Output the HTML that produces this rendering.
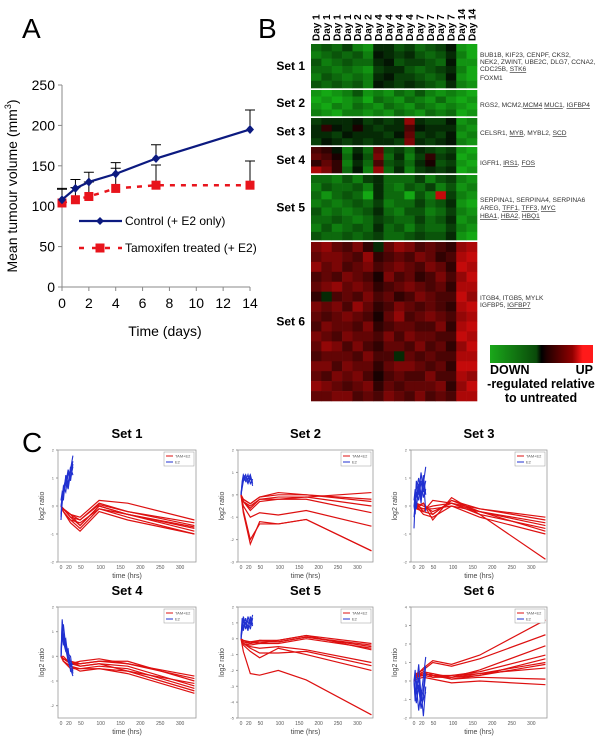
<!DOCTYPE html>
<html><head><meta charset="utf-8"><style>
html,body{margin:0;padding:0;background:#fff;width:600px;height:748px;overflow:hidden}
svg{display:block}
text{font-family:"Liberation Sans",Arial,sans-serif}
</style></head><body>
<svg id="fig" width="600" height="748" viewBox="0 0 600 748">
<text x="22" y="38" font-family="Liberation Serif" font-size="28">A</text>
<text x="258" y="38" font-family="Liberation Serif" font-size="28">B</text>
<text x="22" y="452" font-family="Liberation Serif" font-size="28">C</text>
<g id="pa"></g>
<g id="pb"></g>
<g id="pc"></g>
</svg>
<script>
// ---------- Panel A data ----------
const days = [0,1,2,4,7,14];
const controlVol = [108,122,130,140,159,195];
const controlErr = [14,11,12,14,17,24];
const tamVol = [104,108,112,122,126,126];
const tamErr = [17,15,18,25,25,30];
const yTicksA = [0,50,100,150,200,250];
const xTicksA = [0,2,4,6,8,10,12,14];

// ---------- Panel B data ----------
const dayLabels = ["Day 1","Day 1","Day 1","Day 1","Day 2","Day 2","Day 4","Day 4","Day 4","Day 4","Day 7","Day 7","Day 7","Day 7","Day 14","Day 14"];
const setNames = ["Set 1","Set 2","Set 3","Set 4","Set 5","Set 6"];
const heat1 = [
[-5,-4,-5,-3,-6,-7,-2,-2,-4,-3,-5,-4,-3,-1,-7,-8],
[-6,-5,-4,-5,-4,-6,-1,-2,-3,-2,-4,-5,-4,-2,-6,-8],
[-4,-6,-5,-4,-5,-5,-2,-1,-4,-3,-3,-4,-5,-1,-7,-7],
[-5,-5,-6,-5,-6,-7,-3,-2,-2,-4,-5,-4,-3,-2,-6,-8],
[-6,-4,-5,-6,-5,-6,-2,-1,-3,-3,-4,-5,-4,-1,-7,-8],
[-4,-5,-4,-5,-4,-6,-1,-2,-3,-2,-3,-4,-5,-2,-6,-7]];
const heat2 = [
[-7,-8,-7,-6,-4,-7,-6,-7,-5,-6,-4,-6,-7,-6,-7,-8],
[-8,-7,-8,-7,-6,-8,-5,-6,-7,-5,-6,-7,-5,-7,-8,-7],
[-7,-8,-6,-7,-5,-6,-7,-5,-6,-7,-5,-6,-7,-6,-7,-8],
[-6,-7,-8,-6,-6,-7,-6,-7,-5,-6,-7,-5,-6,-5,-8,-7]];
const heat3 = [
[-3,-2,-2,-2,-1,-3,-2,-3,-2,6,-2,-3,-3,-1,-7,-6],
[-2,2,-1,-2,1,-2,-3,-2,-2,3,-1,-2,-2,-2,-6,-7],
[-2,-2,-3,-1,-2,-2,-2,-3,-1,4,-3,-2,-3,-1,-7,-6],
[-3,-1,-2,-3,-2,-3,-2,-2,-3,5,-2,-3,-2,-1,-6,-7]];
const heat4 = [
[3,2,-1,-6,-2,-5,4,-4,-3,-5,-2,-3,-4,-3,-7,-8],
[4,3,1,-5,-1,-4,5,-5,-2,-6,-3,2,-3,-2,-8,-7],
[2,4,2,-6,-2,-5,3,-4,-3,-5,-2,1,-4,-3,-7,-8],
[7,5,2,-5,-1,-6,6,-5,-2,-6,-3,-2,-3,-2,-8,-7]];
const heat5 = [
[-5,-5,-6,-4,-6,-3,-2,-5,-5,-5,-3,-6,-4,-3,-6,-7],
[-6,-4,-5,-5,-4,-6,-2,-5,-6,-4,-5,-3,-6,-4,-7,-6],
[-5,-7,-5,-4,-5,-8,-2,-5,-5,-8,-4,-6,8,-3,-6,-7],
[-6,-5,-6,-5,-4,-5,-3,-6,-5,-5,-3,-5,-4,-2,-7,-8],
[-4,-6,-5,-6,-5,-4,-2,-5,-6,-4,-4,-6,-5,-3,-6,-7],
[-5,-5,-4,-5,-6,-5,-3,-4,-5,-5,-3,-5,-4,-2,-7,-6],
[-6,-4,-6,-5,-4,-5,-2,-5,-4,-6,-4,-5,-5,-3,-6,-7],
[-4,-5,-5,-4,-5,-4,-3,-5,-5,-4,-3,-4,-4,-2,-7,-8]];
const heat6 = [
[5,6,4,3,5,2,-2,4,6,5,3,4,3,2,6,7],
[4,5,5,4,3,6,2,3,4,3,5,4,2,3,7,8],
[6,4,5,3,4,5,3,4,5,4,3,5,4,2,8,7],
[3,4,3,5,4,3,1,5,3,4,2,3,5,3,6,8],
[4,5,6,4,5,4,2,3,4,5,4,3,4,2,7,7],
[2,-2,3,4,3,5,3,4,2,3,5,4,3,3,8,6],
[5,4,5,3,6,4,2,3,5,4,3,4,3,2,7,8],
[4,3,4,5,4,3,1,4,6,3,4,5,4,3,6,7],
[3,5,4,4,3,5,2,3,4,4,3,3,5,2,7,8],
[5,4,3,5,4,4,3,5,3,5,4,4,3,3,8,7],
[4,6,5,3,5,3,2,4,4,3,5,3,4,2,6,8],
[3,4,4,4,3,5,3,3,-2,4,3,4,3,3,7,7],
[5,5,3,5,4,4,2,4,5,5,4,3,4,2,8,8],
[4,3,5,4,5,3,1,3,4,3,3,5,3,3,7,6],
[6,5,4,3,4,5,2,4,3,4,4,4,5,2,6,8],
[4,4,5,5,3,4,3,5,4,3,5,3,4,3,7,7]];

// ---------- Panel C data ----------
const tRed = [0,6,24,48,96,168,336];
const tBlue = [0,3,6,12,18,24,30];
const set1Red = [[0,-0.1,-0.4,-0.7,0,-0.3,-0.9],[0,-0.1,-0.3,-0.5,0.1,-0.2,-0.7],[0,-0.2,-0.5,-0.8,-0.1,-0.4,-1.0],[0,-0.1,-0.3,-0.4,0.2,0.1,-0.5],[0,-0.2,-0.5,-0.6,-0.1,-0.3,-0.8],[0,-0.1,-0.4,-0.5,0.05,-0.2,-0.6],[0,-0.2,-0.6,-0.9,-0.2,-0.5,-1.0],[0,-0.1,-0.3,-0.7,0,-0.3,-0.75]];
const set1Blue = [[-0.5,0.2,0.5,0.9,0.6,1.2,1.6],[-0.3,0.4,0.2,1.1,0.8,1.4,1.1],[0,0.3,0.7,0.5,1.2,0.9,1.5],[-0.4,0.1,0.6,1.0,0.7,1.3,1.8],[0.2,0.5,0.4,0.8,1.3,1.0,1.4]];
const set2Red = [[0,-0.3,-0.5,-0.2,-0.1,-0.1,0.1],[0,-0.2,-0.4,-0.1,0,0,-0.3],[0,-0.3,-0.6,-0.2,-0.2,-0.1,-0.5],[0,-0.2,-0.4,-0.1,0.1,0,-0.2],[0,-0.5,-1.0,-0.8,-0.9,-0.7,-1.4],[0,-0.8,-2.2,-1.2,-1.3,-1.1,-2.5],[0,-0.7,-2.0,-1.3,-1.3,-1.1,-2.5],[0,-0.3,-0.7,-0.3,-0.2,-0.2,-0.8]];
const set2Blue = [[0,0.4,0.8,0.6,0.9,0.5,0.7],[0,0.6,0.9,0.7,0.5,0.8,0.4],[0,0.5,0.7,0.9,0.6,0.7,0.6],[0,0.3,0.6,0.8,0.7,0.9,0.5]];
const set3Red = [[0,0,-0.1,0,0.1,-0.2,-0.6],[0,0.1,-0.2,-0.3,0.2,-0.1,-0.5],[0,-0.1,0.1,-0.5,0.3,-0.3,-0.8],[0,0,-0.3,-0.4,0,-0.2,-0.7],[0,-0.1,-0.2,0.2,0.1,-0.3,-1.9],[0,0.1,0,-0.2,0.1,-0.1,-0.4],[0,-0.1,-0.1,-0.1,0,-0.4,-1.0],[0,0,0.1,-0.3,0.2,-0.2,-0.9]];
const set3Blue = [[-0.8,0.2,0.6,1.0,0.4,0.8,1.4],[0,-0.3,0.5,0.2,0.9,0.3,0.6],[0.2,0.6,0.3,0.8,0.1,1.0,-0.2],[-0.4,0.1,0.9,0.4,1.2,0.5,0.9],[0,0.4,-0.1,0.7,0.3,1.1,0.4]];
const set4Red = [[0,-0.1,-0.3,-0.4,-0.3,-0.4,-1.2],[0,-0.1,-0.2,-0.3,-0.2,-0.3,-0.9],[0,-0.2,-0.4,-0.6,-0.5,-0.7,-1.5],[0,-0.1,-0.3,-0.2,-0.1,-0.3,-0.8],[0,-0.2,-0.5,-0.5,-0.4,-0.5,-1.3],[0,-0.1,-0.2,-0.4,-0.3,-0.6,-1.1],[0,0,-0.3,-0.3,-0.2,-0.2,-1.0],[0,-0.2,-0.4,-0.5,-0.5,-0.6,-1.4]];
const set4Blue = [[0,1.5,0.8,0.3,-0.2,-0.5,-0.8],[0,1.2,0.9,0.5,0.2,-0.3,-0.6],[0,0.8,1.3,0.4,0.1,0,-0.7],[0,1.0,0.5,0.7,-0.1,-0.4,-0.3],[0,1.4,0.6,0.2,0.3,-0.6,-0.5]];
const set5Red = [[0,-0.2,-0.3,-0.2,-0.2,0.1,-0.4],[0,-0.1,-0.2,-0.1,-0.1,0.2,-0.3],[0,-0.3,-0.4,-0.3,-0.3,0,-0.6],[0,-0.2,-0.3,-0.1,-0.2,0.1,-0.5],[0,-0.4,-0.8,-1.2,-0.6,-1.0,-2.0],[0,-0.3,-0.6,-0.9,-0.9,-0.8,-1.7],[0,-0.8,-2.2,-2.3,-2.0,-2.6,-4.8],[0,-0.2,-0.2,-0.3,-0.1,0.2,-0.7],[0,-0.3,-0.5,-0.6,-0.5,-0.7,-1.5]];
const set5Blue = [[0,0.8,1.2,0.6,1.4,0.9,1.5],[0,1.1,0.5,1.3,0.7,1.2,0.8],[0,0.5,1.4,0.9,1.1,0.6,1.3],[0,1.3,0.8,1.0,0.5,1.4,0.9]];
const set6Red = [[0,0.3,0.4,0.3,0.2,0.3,0.9],[0,0.2,0.3,0.4,0.1,0.3,1.2],[0,0.3,0.5,0.2,0.3,0.4,0.7],[0,0.4,0.6,1.0,0.8,1.2,2.5],[0,0.3,0.7,1.1,0.9,1.4,3.3],[0,0.2,0.4,0.3,0.1,0.2,0.1],[0,0.1,0.2,0.1,-0.1,0,-0.2],[0,0.3,0.5,0.4,0.2,0.6,1.9],[0,0.2,0.4,0.3,0.3,0.5,1.4],[0,0.3,0.3,0.2,0.2,0.4,1.0]];
const set6Blue = [[0,-0.5,-1.2,-0.3,-1.5,-0.8,0.4],[0,0.6,-0.4,0.9,-0.8,0.2,1.3],[0,-0.9,-0.2,-1.6,-0.5,-1.9,-0.3],[0,0.3,-0.7,0.2,-1.1,-0.4,0.8],[0,-1.1,-0.6,-0.2,-1.4,-1.0,-0.6]];
const setYMin = [-2,-3,-2,-2.5,-5,-2];
const setYMax = [2,2,2,2,2,4];

const NS="http://www.w3.org/2000/svg";
function mk(tag,attrs,parent){const e=document.createElementNS(NS,tag);for(const k in attrs)e.setAttribute(k,attrs[k]);parent.appendChild(e);return e;}

// ----- Panel A -----
(function(){
const g=document.getElementById('pa');
const X0=62,X1=250,Y0=287,Y1=85;
const xs=d=>X0+(d/14)*(X1-X0), ys=v=>Y0-(v/250)*(Y0-Y1);
let ax=mk('path',{d:`M${X0},${Y1}V${Y0}H${X1}`,stroke:'#888',fill:'none','stroke-width':1},g);

yTicksA.forEach(v=>{
 const l=mk('line',{x1:X0-4,x2:X0,y1:ys(v),y2:ys(v),stroke:'#888'},g);
 
 const t=mk('text',{x:X0-7,y:ys(v)+5,'text-anchor':'end','font-size':14},g);t.textContent=v;
 
});
xTicksA.forEach(v=>{
 const l=mk('line',{x1:xs(v),x2:xs(v),y1:Y0,y2:Y0+4,stroke:'#888'},g);
 
 const t=mk('text',{x:xs(v),y:Y0+21,'text-anchor':'middle','font-size':14},g);t.textContent=v;
 
});
const xt=mk('text',{x:165,y:336,'text-anchor':'middle','font-size':14},g);xt.textContent='Time (days)';

const yt=mk('text',{x:0,y:0,'text-anchor':'middle','font-size':14,transform:'translate(17,186) rotate(-90)'},g);
yt.innerHTML='Mean tumour volume (mm<tspan dy="-6" font-size="9">3</tspan><tspan dy="6">)</tspan>';

function errs(vals,er){days.forEach((d,i)=>{const x=xs(d),yt=ys(vals[i]+er[i]);
 const p=mk('path',{d:`M${x},${ys(vals[i])}V${yt}M${x-5},${yt}H${x+5}`,stroke:'#000','stroke-width':1,fill:'none'},g);
 });}
errs(controlVol,controlErr);errs(tamVol,tamErr);
const tl=mk('polyline',{points:days.map((d,i)=>xs(d)+','+ys(tamVol[i])).join(' '),fill:'none',stroke:'#e8141c','stroke-width':2.5,'stroke-dasharray':'5,6'},g);

const cl=mk('polyline',{points:days.map((d,i)=>xs(d)+','+ys(controlVol[i])).join(' '),fill:'none',stroke:'#0c1a80','stroke-width':2.2},g);

days.forEach((d,i)=>{
 const s=mk('rect',{x:xs(d)-4.5,y:ys(tamVol[i])-4.5,width:9,height:9,fill:'#e8141c'},g);
 
 const x=xs(d),y=ys(controlVol[i]);
 const m=mk('path',{d:`M${x},${y-4.5}L${x+4},${y}L${x},${y+4.5}L${x-4},${y}Z`,fill:'#0c1a80'},g);
 
});
const lg=mk('g',{},g);
mk('line',{x1:79,x2:122,y1:221,y2:221,stroke:'#0c1a80','stroke-width':2.2},lg);
mk('path',{d:'M100,217L104,221L100,225L96,221Z',fill:'#0c1a80'},lg);
let t1=mk('text',{x:125,y:225,'font-size':12},lg);t1.textContent='Control (+ E2 only)';
mk('line',{x1:79,x2:122,y1:248,y2:248,stroke:'#e8141c','stroke-width':2.5,'stroke-dasharray':'5,8'},lg);
mk('rect',{x:95.5,y:243.5,width:9,height:9,fill:'#e8141c'},lg);
let t2=mk('text',{x:125,y:252,'font-size':12},lg);t2.textContent='Tamoxifen treated (+ E2)';
})();

// ----- Panel B -----
(function(){
const g=document.getElementById('pb');
const HX0=311,HX1=477,cw=(HX1-HX0)/16;
const mats=[heat1,heat2,heat3,heat4,heat5,heat6];
const bands=[[44,88],[90,116],[118,145],[147,173],[175,240],[242,401]];
function col(v){v=v/10;if(v<0){const k=-v;return `rgb(${Math.round(25*k)},${Math.round(210*k)},${Math.round(25*k)})`;}return `rgb(${Math.round(245*v)},${Math.round(12*v)},${Math.round(12*v)})`;}
mk('rect',{x:HX0,y:44,width:HX1-HX0,height:357,fill:'#fff'},g);
mats.forEach((m,s)=>{
 const [a,b]=bands[s],rh=(b-a)/m.length;
 m.forEach((row,r)=>row.forEach((v,c)=>{
  const e=mk('rect',{x:HX0+c*cw,y:a+r*rh,width:cw+0.3,height:rh+0.3,fill:col(v)},g);
  
 }));
 const t=mk('text',{x:305,y:(a+b)/2+4,'text-anchor':'end','font-size':12,'font-weight':'bold'},g);t.textContent=setNames[s];
 
});
dayLabels.forEach((d,i)=>{
 const t=mk('text',{x:0,y:0,'font-size':10,'font-weight':'bold',transform:`translate(${HX0+cw*(i+0.5)+3.5},41) rotate(-90)`},g);t.textContent=d;
 
});
const U=s=>`<tspan text-decoration="underline">${s}</tspan>`;
const genes=[[57,'BUB1B, KIF23, CENPF, CKS2,'],[64,'NEK2, ZWINT, UBE2C, DLG7, CCNA2,'],[71,'CDC25B, '+U('STK6')],[80,'FOXM1'],
[107,'RGS2, MCM2,'+U('MCM4')+'  '+U('MUC1')+', '+U('IGFBP4')],
[135,'CELSR1, '+U('MYB')+', MYBL2, '+U('SCD')],
[165,'IGFR1, '+U('IRS1')+', '+U('FOS')],
[202,'SERPINA1, SERPINA4, SERPINA6'],[210,'AREG, '+U('TFF1')+', '+U('TFF3')+', '+U('MYC')],[218,U('HBA1')+', '+U('HBA2')+', '+U('HBQ1')],
[300,'ITGB4, ITGB5,  MYLK'],[307,'IGFBP5, '+U('IGFBP7')]];
genes.forEach(([y,s])=>{const t=mk('text',{x:480,y:y,'font-size':6.6,fill:'#333'},g);t.innerHTML=s;
 });
const defs=mk('defs',{},g);
const lgd=mk('linearGradient',{id:'cb'},defs);
[['0','#1aa81a'],['0.45','#0a4a0a'],['0.5','#000'],['0.55','#200000'],['0.8','#900000'],['0.9','#ff1a1a'],['1','#ff1a1a']].forEach(([o,c])=>mk('stop',{offset:o,'stop-color':c},lgd));
const cb=mk('rect',{x:490,y:345,width:103,height:18,fill:'url(#cb)'},g);

[[490,374,'start','DOWN'],[593,374,'end','UP'],[541,388,'middle','-regulated relative'],[541,402,'middle','to untreated']].forEach(([x,y,a,s])=>{
 const t=mk('text',{x:x,y:y,'text-anchor':a,'font-size':12.5,'font-weight':'bold'},g);t.textContent=s;
 });
})();

// ----- Panel C -----
(function(){
const g=document.getElementById('pc');
const reds=[set1Red,set2Red,set3Red,set4Red,set5Red,set6Red];
const blues=[set1Blue,set2Blue,set3Blue,set4Blue,set5Blue,set6Blue];
const cols=[[58,196],[238,373],[411,547]],rows=[[450,562],[607,718]];
const xt=[0,20,50,100,150,200,250,300];
for(let s=0;s<6;s++){
 const [L,R]=cols[s%3],[T,B]=rows[Math.floor(s/3)];
 const sg=mk('g',{},g);
 const ymin=setYMin[s],ymax=setYMax[s];
 const xs=t=>L+3+(t/340)*(R-L-3), ys=v=>B-((v-ymin)/(ymax-ymin))*(B-T);
 const tt=mk('text',{x:(L+R)/2,y:T-12,'text-anchor':'middle','font-size':13,'font-weight':'bold'},sg);tt.textContent=setNames[s];
 
 const fr=mk('rect',{x:L,y:T,width:R-L,height:B-T,fill:'none',stroke:'#999','stroke-width':0.8},sg);
 
 for(let v=Math.ceil(ymin);v<=ymax;v++){mk('line',{x1:L-2,x2:L,y1:ys(v),y2:ys(v),stroke:'#999'},sg);
  const t=mk('text',{x:L-4,y:ys(v)+1.5,'text-anchor':'end','font-size':4,fill:'#666'},sg);t.textContent=v;
  }
 xt.forEach(v=>{const t=mk('text',{x:xs(v),y:B+7,'text-anchor':'middle','font-size':5,fill:'#555'},sg);t.textContent=v;
  });
 const xl=mk('text',{x:(L+R)/2,y:B+16,'text-anchor':'middle','font-size':7,fill:'#444'},sg);xl.textContent='time (hrs)';
 
 const yl=mk('text',{x:0,y:0,'text-anchor':'middle','font-size':7,fill:'#444',transform:`translate(${L-14},${(T+B)/2}) rotate(-90)`},sg);yl.textContent='log2 ratio';
 
 reds[s].forEach(line=>{const p=mk('polyline',{points:tRed.map((t,i)=>xs(t)+','+ys(line[i])).join(' '),fill:'none',stroke:'#dd1010','stroke-width':1.2},sg);
  });
 blues[s].forEach(line=>{const p=mk('polyline',{points:tBlue.map((t,i)=>xs(t)+','+ys(line[i])).join(' '),fill:'none',stroke:'#2030d0','stroke-width':1.1},sg);
  });
 const lg=mk('g',{},sg);
 mk('rect',{x:R-32,y:T+2,width:30,height:14,fill:'#fff',stroke:'#999','stroke-width':0.5},lg);
 mk('line',{x1:R-30,x2:R-23,y1:T+6,y2:T+6,stroke:'#dd1010'},lg);
 mk('line',{x1:R-30,x2:R-23,y1:T+12,y2:T+12,stroke:'#2030d0'},lg);
 let a=mk('text',{x:R-21,y:T+7.5,'font-size':4,fill:'#555'},lg);a.textContent='TAM+E2';
 let b=mk('text',{x:R-21,y:T+13.5,'font-size':4,fill:'#555'},lg);b.textContent='E2';
}
})();
</script>
</body></html>
